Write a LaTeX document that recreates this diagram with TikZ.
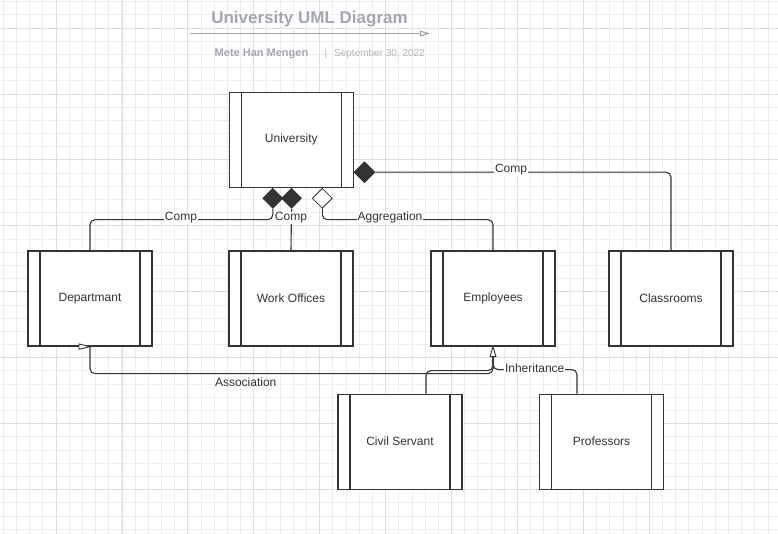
\documentclass[tikz,border=0pt]{standalone}
\usepackage{fontspec}
\setmainfont{Liberation Sans}
\usetikzlibrary{shapes.geometric,arrows.meta}
\definecolor{ink}{HTML}{333333}
\definecolor{gridminor}{HTML}{EDEDED}
\definecolor{gridmajor}{HTML}{DEDEDE}
\definecolor{titlegray}{HTML}{A3A7B1}
\definecolor{dategray}{HTML}{B2B5BD}
\tikzset{
  umlbox/.style={draw=ink, fill=white, line width=1.25pt, minimum width=124pt, minimum height=95pt,
    inner sep=0pt, text=ink, font=\fontsize{12}{14}\selectfont,
    path picture={
      \draw[ink, line width=1.25pt] ([xshift=12pt]path picture bounding box.north west) -- ([xshift=12pt]path picture bounding box.south west);
      \draw[ink, line width=1.25pt] ([xshift=-12pt]path picture bounding box.north east) -- ([xshift=-12pt]path picture bounding box.south east);}},
  fdiam/.style={diamond, draw=ink, fill=ink, minimum width=20pt, minimum height=20pt, inner sep=0pt, line width=0.8pt},
  odiam/.style={fdiam, fill=white},
  conn/.style={draw=ink, line width=1.1pt, rounded corners=5pt},
  lbl/.style={fill=white, text=ink, inner sep=1pt, font=\fontsize{12}{14}\selectfont},
  headtip/.style={draw=ink, fill=white, line width=0.9pt, line join=miter},
}
\begin{document}
\begin{tikzpicture}[x=1pt, y=-1pt]
\useasboundingbox (0,0) rectangle (778,534);
\fill[white] (0,0) rectangle (778,534);
% grid
\foreach \i in {0,...,59} {
  \pgfmathsetmacro\gx{3.2+13.186*\i}
  \draw[gridminor, line width=0.85pt] (\gx,0) -- (\gx,534);
}
\foreach \j in {0,...,40} {
  \pgfmathsetmacro\gy{1.6+13.19*\j}
  \draw[gridminor, line width=0.85pt] (0,\gy) -- (778,\gy);
}
\foreach \k in {1,...,10} {
  \pgfmathsetmacro\gx{-9.93+65.93*\k}
  \draw[gridmajor, line width=0.85pt] (\gx,0) -- (\gx,534);
}
\foreach \k in {0,...,7} {
  \pgfmathsetmacro\gy{28+65.96*\k}
  \draw[gridmajor, line width=0.85pt] (0,\gy) -- (778,\gy);
}
% title
\node[anchor=base, text=titlegray, font=\fontsize{17}{20}\selectfont\bfseries] (title) at (309.5,23.3) {University UML Diagram};
\coordinate (tl) at (190,33.5);
\coordinate (tr) at (430,33.5);
\draw[titlegray, line width=1.2pt, -{Triangle[open, length=10pt, width=6pt]}] (tl) -- (tr);
\node[anchor=base, text=titlegray, font=\fontsize{11}{13}\selectfont\bfseries] (author) at (261.5,56.7) {Mete Han Mengen};
\node[anchor=base, text=dategray, font=\fontsize{10}{12}\selectfont] (sep) at (326,56.7) {|};
\node[anchor=base, text=dategray, font=\fontsize{10}{12}\selectfont] (date) at (379.5,56.7) {September 30, 2022};
% boxes
\node[umlbox] (uni) at (291.3,139.8) {University};
\node[umlbox] (dep) at (90,298.5) {Departmant};
\node[umlbox] (wo) at (291,298.5) {Work Offices};
\node[umlbox] (emp) at (493,298.5) {Employees};
\node[umlbox] (cls) at (671,298.5) {Classrooms};
\node[umlbox] (cs) at (400,441.7) {Civil Servant};
\node[umlbox] (prof) at (601.5,441.7) {Professors};
% diamonds
\node[fdiam] (dmL) at (272.8,198.3) {};
\node[fdiam] (dmR) at (291.5,198.3) {};
\node[odiam] (dmA) at (322.3,198.3) {};
\node[fdiam, minimum width=21pt, minimum height=21pt] (dmC) at (364.5,172.2) {};
% composition / aggregation connectors
\draw[conn] (dmL.south) -- ++(0,11) -| (dep.north);
\draw[conn] (dmR.south) -- (wo.north);
\draw[conn] (dmA.south) -- ++(0,11) -| (emp.north);
\draw[conn] (dmC.east) -| (cls.north);
\node[lbl] (lcomp1) at (181,218) {Comp};
\node[lbl] (lcomp2) at (291,218) {Comp};
\node[lbl] (lagg) at (390,217.5) {Aggregation};
\node[lbl] (lcomp3) at (511,170) {Comp};
% inheritance and association
\coordinate (inhbase) at ([yshift=-10pt]emp.south);
\draw[conn] ([xshift=26pt]cs.north) -- ++(0,-23) -| (inhbase);
\draw[conn] ([xshift=-24.5pt]prof.north) -- ++(0,-24) -| (inhbase);
\draw[conn] (inhbase) -- ++(0,17) -| (dep.south);
\draw[headtip] (emp.south) -- ++(3,10) -- ++(-6,0) -- cycle;
\draw[headtip] (dep.south) -- ++(-11,-2.7) -- ++(0,5.4) -- cycle;
\node[lbl] (linh) at (534.7,368.3) {Inheritance};
\node[text=ink, inner sep=1pt, font=\fontsize{12}{14}\selectfont] (lassoc) at (245.7,382) {Association};
\end{tikzpicture}
\end{document}
